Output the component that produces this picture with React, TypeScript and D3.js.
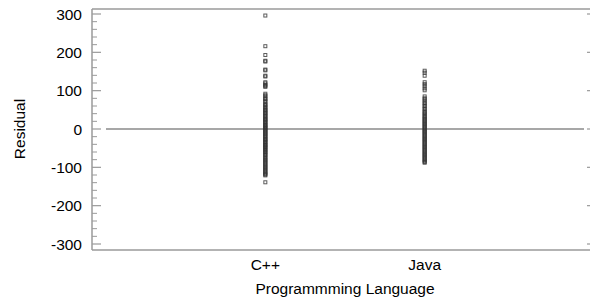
import React from "react";
import * as d3 from "d3";

const categories = ["C++", "Java"];
const cppResiduals = [296, 216, 193, 178, 176, 155, 153, 139, 137, 122, 119, 115, 112, 110, 92, 88, 85, 80, 78, 74, 71, 66, 63, 61, 57, 54, 51, 49, 46, 43, 41, 38, 35, 33, 30, 27, 25, 23, 20, 18, 15, 12, 10, 8, 5, 3, 1, -2, -4, -7, -9, -12, -14, -17, -19, -22, -25, -27, -29, -32, -34, -37, -40, -42, -44, -47, -49, -52, -55, -57, -60, -63, -66, -68, -72, -75, -78, -81, -84, -87, -90, -93, -96, -99, -102, -105, -108, -111, -114, -117, -119, -121, -139];
const javaResiduals = [152, 147, 139, 122, 117, 112, 106, 101, 85, 80, 77, 72, 68, 64, 60, 56, 52, 48, 44, 41, 38, 34, 31, 28, 25, 22, 19, 16, 13, 10, 7, 4, 1, -2, -5, -8, -11, -14, -17, -20, -23, -26, -29, -32, -35, -38, -41, -44, -47, -50, -53, -56, -59, -62, -65, -68, -71, -74, -77, -80, -83, -86, -88];
const yTicks = [300, 200, 100, 0, -100, -200, -300];
const seriesValues = [cppResiduals, javaResiduals];

export default function App() {
  const W = 590, H = 298;
  const left = 92, right = 592, top = 9, bottom = 250;
  const y = d3.scaleLinear().domain([-300, 300]).range([244, 14]);
  const x = d3.scaleLinear().domain([0, 3]).range([106, 584]);
  const minorTicks = d3.range(-300, 301, 20).filter((v) => v % 100 !== 0);
  const font = "Arial, 'Liberation Sans', sans-serif";
  const axisColor = "#9a9a9a";
  const s = 3;
  return (
    <svg width={W} height={H} style={{ position: "absolute", left: 0, top: 0 }}>
      <rect x={0} y={0} width={W} height={H} fill="#fff" />
      <line x1={left} x2={right} y1={top} y2={top} stroke={axisColor} strokeWidth={1.5} />
      <line x1={left} x2={right} y1={bottom} y2={bottom} stroke={axisColor} strokeWidth={1.5} />
      <line x1={left} x2={left} y1={top} y2={bottom} stroke={axisColor} strokeWidth={1.5} />
      {yTicks.map((t) => (
        <g key={"t" + t}>
          <line x1={left} x2={left + 9} y1={y(t)} y2={y(t)} stroke={axisColor} strokeWidth={1.2} />
          <line x1={right - 5} x2={right} y1={y(t)} y2={y(t)} stroke={axisColor} strokeWidth={1.2} />
          <text x={82} y={y(t)} dy="0.36em" textAnchor="end" fontFamily={font} fontSize={15.5} fill="#000">
            {t}
          </text>
        </g>
      ))}
      {minorTicks.map((t) => (
        <line key={"m" + t} x1={left} x2={left + 5} y1={y(t)} y2={y(t)} stroke={axisColor} strokeWidth={1} />
      ))}
      <line x1={x(0)} x2={x(3)} y1={y(0)} y2={y(0)} stroke="#8a8a8a" strokeWidth={1.5} />
      {seriesValues.map((vals, i) =>
        vals.map((v, j) => (
          <rect
            key={i + "-" + j}
            x={x(i + 1) - s / 2}
            y={y(v) - s / 2}
            width={s}
            height={s}
            fill="none"
            stroke="#333"
            strokeOpacity={0.8}
            strokeWidth={1}
          />
        ))
      )}
      {categories.map((c, i) => (
        <text key={c} x={x(i + 1)} y={270} textAnchor="middle" fontFamily={font} fontSize={15.5} fill="#000">
          {c}
        </text>
      ))}
      <text x={345} y={294} textAnchor="middle" fontFamily={font} fontSize={15.5} fill="#000">
        Programmming Language
      </text>
      <text
        transform={`translate(25,129) rotate(-90)`}
        textAnchor="middle"
        fontFamily={font}
        fontSize={15.5}
        fill="#000"
      >
        Residual
      </text>
    </svg>
  );
}
